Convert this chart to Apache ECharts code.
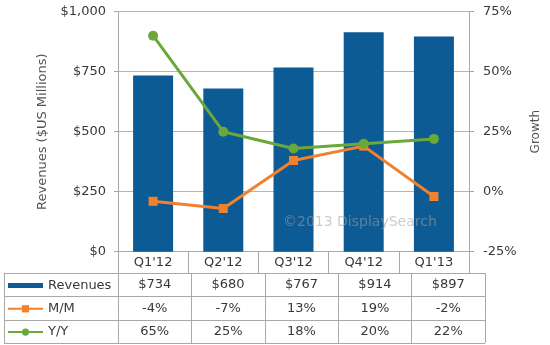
<!DOCTYPE html>
<html>
<head>
<meta charset="utf-8">
<script src="https://cdn.jsdelivr.net/npm/echarts@6/dist/echarts.min.js"></script>
<style>html,body{margin:0;padding:0;background:#fff}#c{width:550px;height:345px}</style>
</head>
<body>
<div id="c"></div>
<script>
const categories = ["Q1'12", "Q2'12", "Q3'12", "Q4'12", "Q1'13"];
const revenues = [734, 680, 767, 914, 897];
const momGrowth = [-4, -7, 13, 19, -2];
const yoyGrowth = [65, 25, 18, 20, 22];
const seriesNames = ['Revenues', 'M/M', 'Y/Y'];
const revenueTicks = [0, 1000, 250];
const growthTicks = [-25, 75, 25];

const FONT = 'DejaVu Sans';
const TXT = '#383838';
const LINE = '#a8a8a8';
const BLUE = '#0d5b95';
const ORANGE = '#f2802c';
const GREEN = '#6aa83a';

const ROW_TOP = 273.2;
const ROW_H = 23.3;

function rowGrid(i) {
  return {left: 118, right: 65, top: ROW_TOP + i * ROW_H, height: ROW_H};
}
function rowXAxis(gi, fmt) {
  return {
    type: 'category', gridIndex: gi, position: 'bottom', data: categories,
    axisLine: {show: false},
    axisTick: {show: true, inside: true, length: ROW_H, alignWithLabel: false, lineStyle: {color: LINE}},
    axisLabel: {show: true, inside: true, margin: 5, interval: 0, fontFamily: FONT, fontSize: 13, color: TXT,
      formatter: (v, i) => fmt(i)},
    splitLine: {show: false}
  };
}
function hiddenY(gi) {
  return {type: 'value', gridIndex: gi, show: false};
}

const chart = echarts.init(document.getElementById('c'), null, {renderer: 'canvas'});
chart.setOption({
  animation: false,
  textStyle: {fontFamily: FONT},
  grid: [
    {left: 118, right: 65, top: 11.7, bottom: 93.3},
    {left: 4, right: 65, top: ROW_TOP, height: ROW_H * 3},
    rowGrid(0), rowGrid(1), rowGrid(2)
  ],
  legend: {
    orient: 'vertical', left: 7, top: 278, padding: 0, itemWidth: 35, itemHeight: 9, itemGap: 8.3,
    textStyle: {fontFamily: FONT, fontSize: 13, color: TXT, lineHeight: 15},
    data: [
      {name: seriesNames[0], icon: 'path://M0,0M0,2H35V7H0ZM35,9'},
      {name: seriesNames[1]},
      {name: seriesNames[2]}
    ]
  },
  xAxis: [
    {
      type: 'category', gridIndex: 0, data: categories,
      axisLine: {show: true, lineStyle: {color: LINE}},
      axisTick: {show: true, length: 21.5, alignWithLabel: false, lineStyle: {color: LINE}},
      axisLabel: {margin: 4, interval: 0, fontFamily: FONT, fontSize: 13, color: TXT}
    },
    {type: 'value', gridIndex: 1, show: false},
    rowXAxis(2, i => '$' + revenues[i]),
    rowXAxis(3, i => momGrowth[i] + '%'),
    rowXAxis(4, i => yoyGrowth[i] + '%')
  ],
  yAxis: [
    {
      type: 'value', gridIndex: 0, min: revenueTicks[0], max: revenueTicks[1], interval: revenueTicks[2],
      name: 'Revenues ($US Millions)', nameLocation: 'middle', nameRotate: 90, nameGap: 64,
      nameTextStyle: {fontFamily: FONT, fontSize: 13, color: '#555'},
      axisLine: {show: true, lineStyle: {color: LINE}},
      axisTick: {show: true, length: 4, lineStyle: {color: LINE}},
      axisLabel: {margin: 12, fontFamily: FONT, fontSize: 13, color: TXT,
        formatter: v => '$' + v.toLocaleString('en-US')},
      splitLine: {show: true, lineStyle: {color: '#b4b4b4'}}
    },
    {
      type: 'value', gridIndex: 0, position: 'right', min: growthTicks[0], max: growthTicks[1], interval: growthTicks[2],
      name: 'Growth', nameLocation: 'middle', nameRotate: 90, nameGap: 61,
      nameTextStyle: {fontFamily: FONT, fontSize: 12, color: '#555'},
      axisLine: {show: true, lineStyle: {color: LINE}},
      axisTick: {show: true, length: 5, lineStyle: {color: LINE}},
      axisLabel: {margin: 14, fontFamily: FONT, fontSize: 13, color: TXT, formatter: '{value}%'},
      splitLine: {show: false}
    },
    {
      type: 'category', gridIndex: 1, inverse: true, data: seriesNames,
      axisLine: {show: true, lineStyle: {color: LINE}},
      axisTick: {show: false}, axisLabel: {show: false},
      splitLine: {show: true, showMinLine: true, showMaxLine: true, lineStyle: {color: LINE}}
    },
    hiddenY(2), hiddenY(3), hiddenY(4)
  ],
  series: [
    {name: seriesNames[0], type: 'bar', xAxisIndex: 0, yAxisIndex: 0, data: revenues,
      barWidth: 40, itemStyle: {color: BLUE}},
    {name: seriesNames[1], type: 'line', xAxisIndex: 0, yAxisIndex: 1, data: momGrowth,
      symbol: 'rect', symbolSize: 9, itemStyle: {color: ORANGE}, lineStyle: {color: ORANGE, width: 3}},
    {name: seriesNames[2], type: 'line', xAxisIndex: 0, yAxisIndex: 1, data: yoyGrowth,
      symbol: 'circle', symbolSize: 10, itemStyle: {color: GREEN}, lineStyle: {color: GREEN, width: 3}}
  ],
  graphic: [{
    type: 'text', left: 283, top: 215, z: 100,
    style: {text: '\u00a92013 DisplaySearch', fontFamily: FONT, fontSize: 14, fill: 'rgba(160,160,160,0.55)'}
  }]
});
</script>
</body>
</html>
